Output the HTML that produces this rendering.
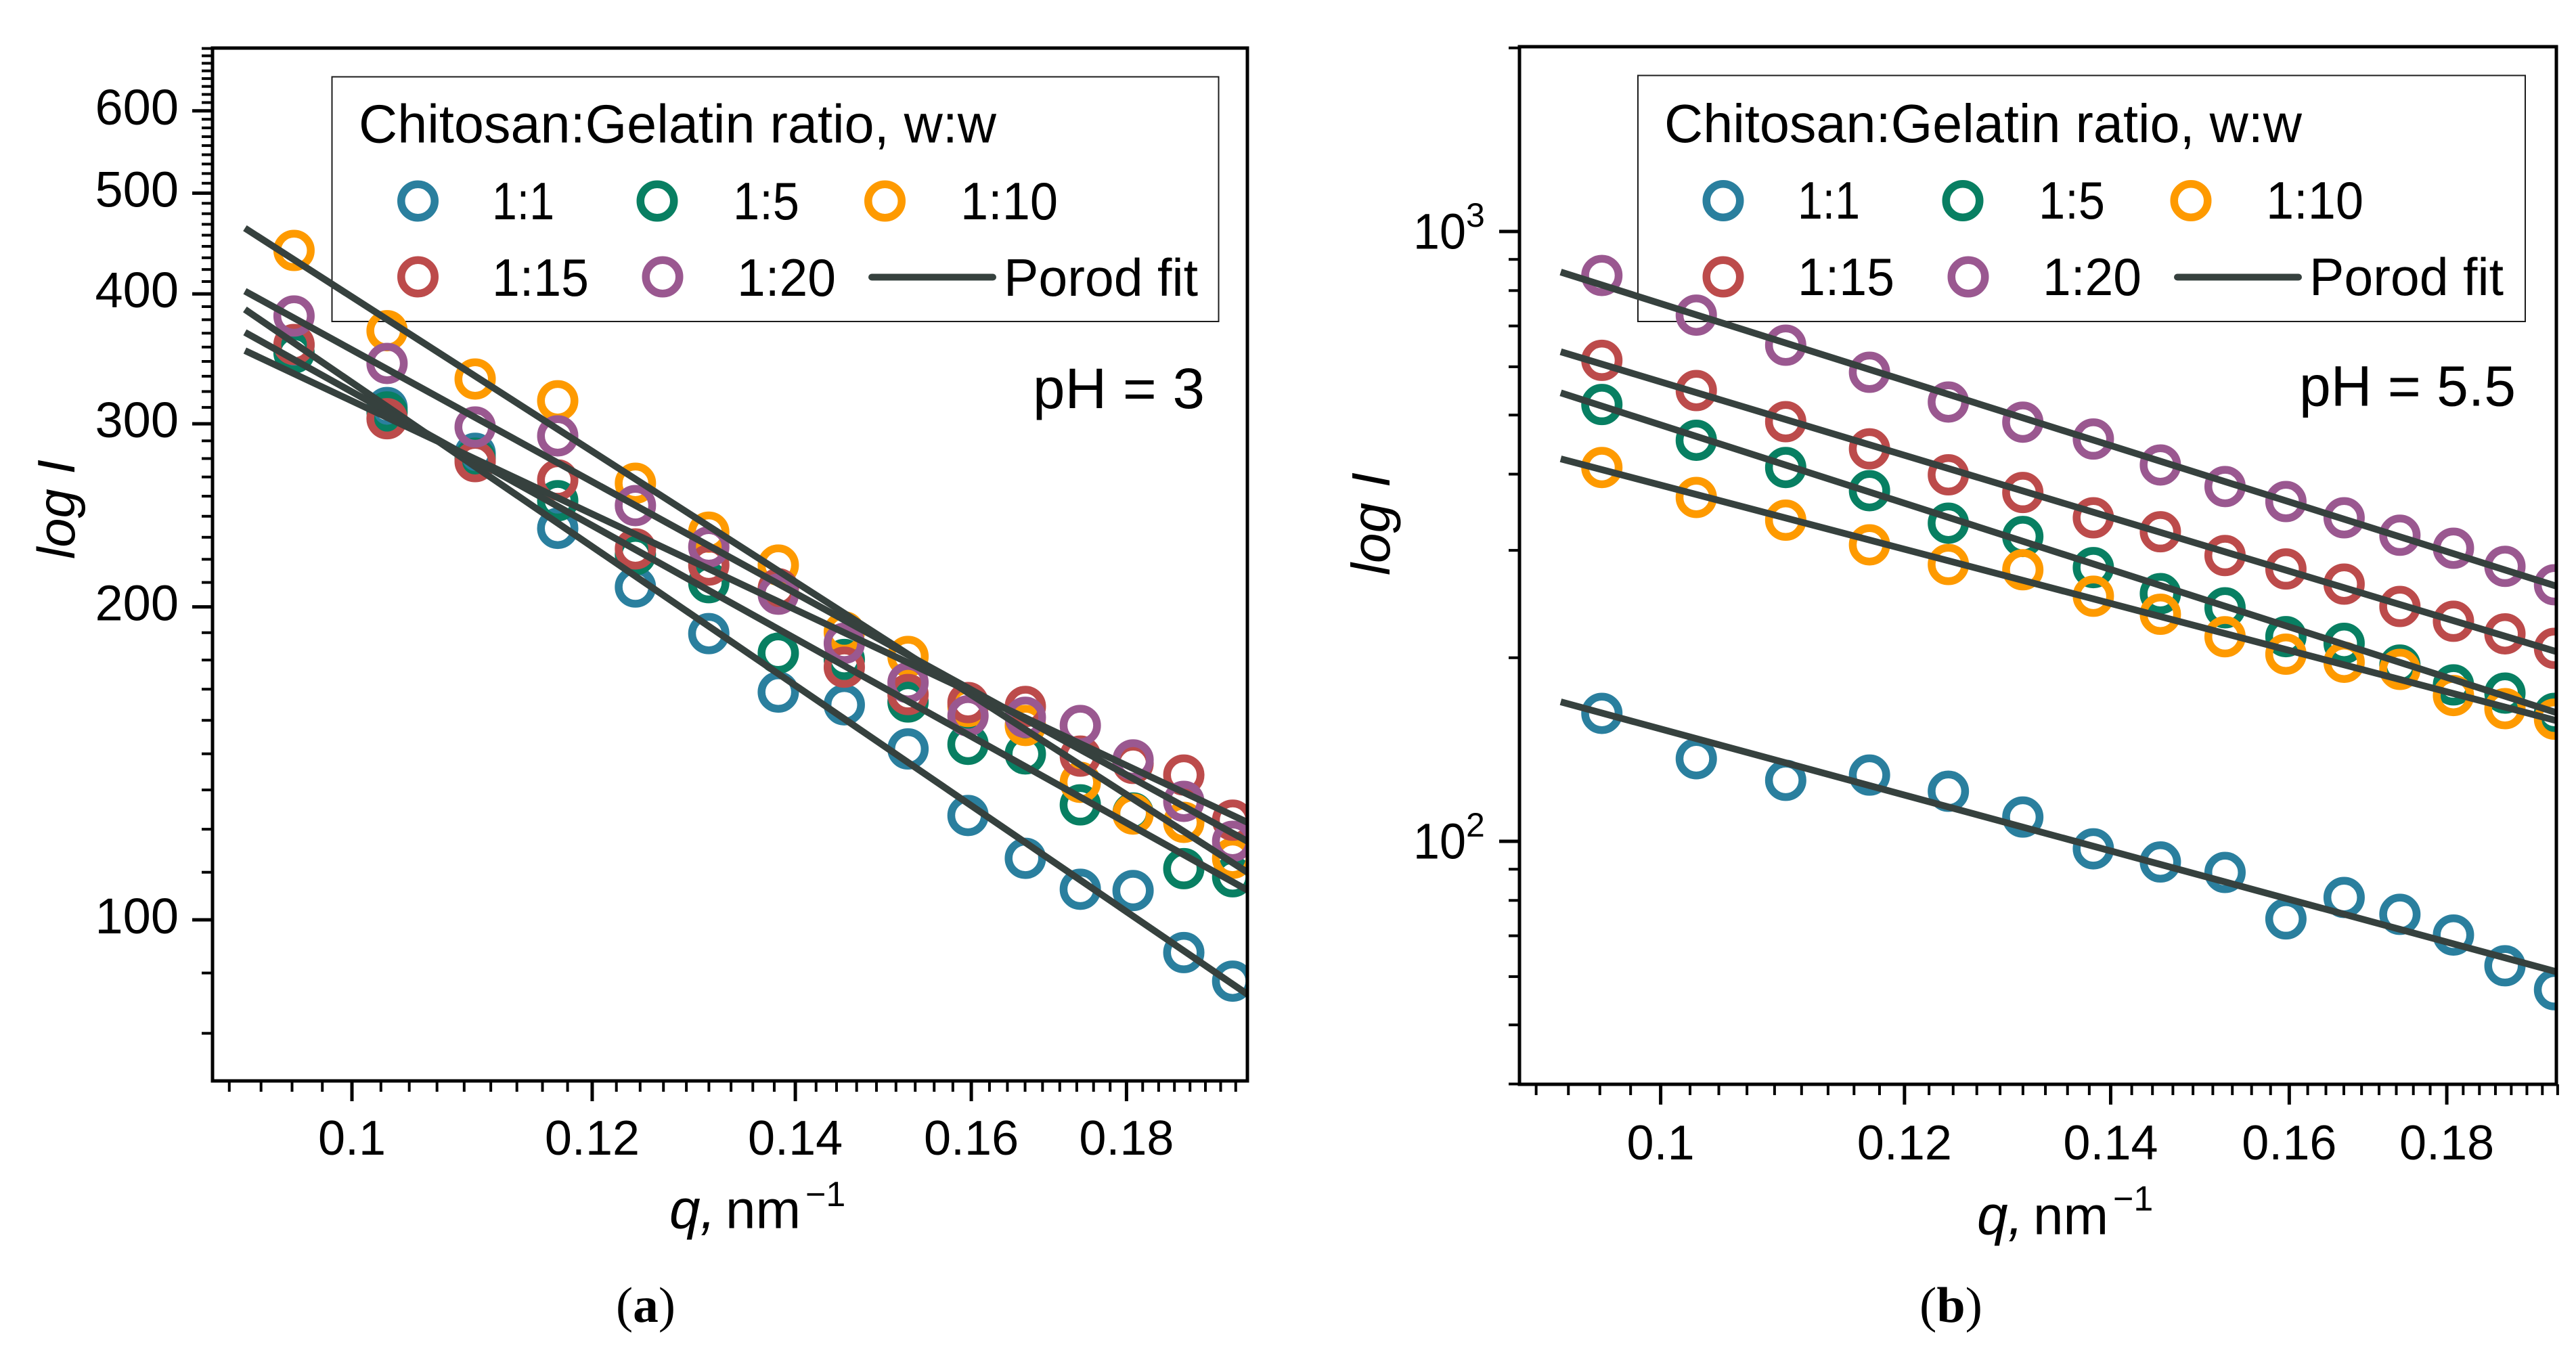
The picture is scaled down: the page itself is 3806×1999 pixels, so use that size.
<!DOCTYPE html>
<html lang="en">
<head>
<meta charset="utf-8">
<title>Porod fits of chitosan:gelatin ratios at pH 3 and pH 5.5</title>
<style>
  html, body { margin: 0; padding: 0; background: #fff; }
  svg { display: block; }
  text { font-family: "Liberation Sans", sans-serif; fill: #000; }
  .serif { font-family: "Liberation Serif", serif; }
</style>
</head>
<body>
<svg id="figure" xmlns="http://www.w3.org/2000/svg" width="3806" height="1999" viewBox="0 0 3806 1999">
  <rect x="0" y="0" width="3806" height="1999" fill="#fff"/>

  <defs>
    <clipPath id="clip-a"><rect x="314" y="71" width="1529" height="1526"/></clipPath>
    <clipPath id="clip-b"><rect x="2245" y="69" width="1532" height="1533"/></clipPath>
  </defs>

  <g id="panel-a">
    <g>
      <rect x="490.5" y="113.5" width="1310" height="361.5" fill="none" stroke="#1c1c1c" stroke-width="2"/>
      <text x="530" y="210.5" font-size="80" textLength="942" lengthAdjust="spacingAndGlyphs">Chitosan:Gelatin ratio, w:w</text>
      <circle cx="617.5" cy="297" r="24.75" fill="none" stroke="#2a7f9e" stroke-width="11.5"/>
      <text x="727" y="324" font-size="78" textLength="92" lengthAdjust="spacingAndGlyphs">1:1</text>
      <circle cx="971" cy="297" r="24.75" fill="none" stroke="#087f62" stroke-width="11.5"/>
      <text x="1083" y="324" font-size="78" textLength="98" lengthAdjust="spacingAndGlyphs">1:5</text>
      <circle cx="1307.5" cy="297" r="24.75" fill="none" stroke="#fe9a00" stroke-width="11.5"/>
      <text x="1419" y="324" font-size="78" textLength="144" lengthAdjust="spacingAndGlyphs">1:10</text>
      <circle cx="617.5" cy="409" r="24.75" fill="none" stroke="#bc4b4b" stroke-width="11.5"/>
      <text x="727" y="437" font-size="78" textLength="143" lengthAdjust="spacingAndGlyphs">1:15</text>
      <circle cx="979" cy="409" r="24.75" fill="none" stroke="#9a5890" stroke-width="11.5"/>
      <text x="1089" y="437" font-size="78" textLength="146" lengthAdjust="spacingAndGlyphs">1:20</text>
      <line x1="1288" y1="409.5" x2="1467" y2="409.5" stroke="#36413e" stroke-width="10" stroke-linecap="round"/>
      <text x="1483" y="437" font-size="78" textLength="287" lengthAdjust="spacingAndGlyphs">Porod fit</text>
    </g>
    <g id="marks-a" clip-path="url(#clip-a)"></g>
    <g id="axes-a"></g>
    <text x="1526" y="603" font-size="84" textLength="254" lengthAdjust="spacingAndGlyphs">pH = 3</text>
    <text transform="translate(110,826) rotate(-90)" font-size="78" font-style="italic" textLength="147" lengthAdjust="spacingAndGlyphs">log I</text>
    <text y="1814.6" font-size="80"><tspan x="989" font-style="italic" font-size="82">q,</tspan><tspan x="1072">nm</tspan><tspan x="1190" y="1782" font-size="52">−1</tspan></text>
    <text class="serif" x="910" y="1953" font-size="74" textLength="88" lengthAdjust="spacingAndGlyphs">(<tspan font-weight="bold">a</tspan>)</text>
  </g>

  <g id="panel-b">
    <g>
      <rect x="2420" y="111.5" width="1311" height="363.5" fill="none" stroke="#1c1c1c" stroke-width="2"/>
      <text x="2459" y="210" font-size="80" textLength="942" lengthAdjust="spacingAndGlyphs">Chitosan:Gelatin ratio, w:w</text>
      <circle cx="2546" cy="296.5" r="24.75" fill="none" stroke="#2a7f9e" stroke-width="11.5"/>
      <text x="2656" y="323" font-size="78" textLength="92" lengthAdjust="spacingAndGlyphs">1:1</text>
      <circle cx="2900" cy="296.5" r="24.75" fill="none" stroke="#087f62" stroke-width="11.5"/>
      <text x="3012" y="323" font-size="78" textLength="98" lengthAdjust="spacingAndGlyphs">1:5</text>
      <circle cx="3237" cy="296.5" r="24.75" fill="none" stroke="#fe9a00" stroke-width="11.5"/>
      <text x="3348" y="323" font-size="78" textLength="144" lengthAdjust="spacingAndGlyphs">1:10</text>
      <circle cx="2546" cy="409" r="24.75" fill="none" stroke="#bc4b4b" stroke-width="11.5"/>
      <text x="2656" y="436" font-size="78" textLength="143" lengthAdjust="spacingAndGlyphs">1:15</text>
      <circle cx="2908" cy="409" r="24.75" fill="none" stroke="#9a5890" stroke-width="11.5"/>
      <text x="3018" y="436" font-size="78" textLength="146" lengthAdjust="spacingAndGlyphs">1:20</text>
      <line x1="3217" y1="409.5" x2="3396" y2="409.5" stroke="#36413e" stroke-width="10" stroke-linecap="round"/>
      <text x="3412" y="436" font-size="78" textLength="287" lengthAdjust="spacingAndGlyphs">Porod fit</text>
    </g>
    <g id="marks-b" clip-path="url(#clip-b)"></g>
    <g id="axes-b"></g>
    <text x="3397" y="599.5" font-size="84" textLength="320" lengthAdjust="spacingAndGlyphs">pH = 5.5</text>
    <text transform="translate(2053,850) rotate(-90)" font-size="80" font-style="italic" textLength="152" lengthAdjust="spacingAndGlyphs">log I</text>
    <text y="1823.7" font-size="80"><tspan x="2921" font-style="italic" font-size="82">q,</tspan><tspan x="3004">nm</tspan><tspan x="3122" y="1788.7" font-size="52">−1</tspan></text>
    <text class="serif" x="2836" y="1953" font-size="74" textLength="93" lengthAdjust="spacingAndGlyphs">(<tspan font-weight="bold">b</tspan>)</text>
  </g>
</svg>

<script>
// ---- Data ----
const ratioKeys = ['1-1', '1-5', '1-10', '1-15', '1-20'];
const qValues = [0.0957, 0.1027, 0.1098, 0.1169, 0.1240, 0.1311, 0.1382, 0.1453, 0.1525, 0.1596, 0.1667, 0.1738, 0.1809, 0.1880, 0.1951];

// Panel (a), pH = 3
const ph3Ratio1to1  = [357, 311, 281, 238, 209, 188.5, 165.6, 161, 146, 126, 114.6, 107, 106.7, 93, 87.3];
const ph3Ratio1to5  = [351, 308, 278, 253, 224.5, 211, 180.5, 178, 162, 147.5, 144.4, 129, 126.7, 112, 110];
const ph3Ratio1to10 = [440.4, 368.7, 331.3, 315.7, 263, 236, 219.4, 189.2, 179.2, 160.4, 153.8, 135.6, 126.4, 124.1, 114.6];
const ph3Ratio1to15 = [357.6, 303.4, 275.9, 264.9, 227.4, 219.4, 208.2, 175, 164.7, 161.8, 160.4, 143.7, 141.4, 137.8, 124.7];
const ph3Ratio1to20 = [380.9, 342.9, 297.9, 292.1, 250.3, 228.4, 205.7, 184.5, 169.1, 157.1, 156.6, 153.8, 142.5, 130, 119];
const ph3FitQ = [0.0922, 0.1973];
const ph3Fit1to1  = [386.5, 84.8];
const ph3Fit1to5  = [367.4, 106.8];
const ph3Fit1to10 = [462.7, 111.1];
const ph3Fit1to15 = [352.8, 124.1];
const ph3Fit1to20 = [402.5, 119];

// Panel (b), pH = 5.5
const ph55Ratio1to1  = [162.1, 136.6, 125.9, 128.4, 120.8, 109.6, 97.2, 92.5, 88.9, 74.6, 80.9, 75.9, 70.2, 62.5, 57.1];
const ph55Ratio1to5  = [520.3, 454.6, 410.2, 375.8, 332.4, 316.1, 281.1, 254.8, 241.5, 216.6, 211.2, 194.5, 180.5, 175, 162.1];
const ph55Ratio1to10 = [410.2, 366.3, 336.2, 306.3, 284.4, 278.8, 252.3, 235.7, 216.5, 202.7, 196.6, 191.4, 173.4, 165, 158.6];
const ph55Ratio1to15 = [614.7, 548.5, 487.6, 440.1, 399, 373.2, 339.2, 321.8, 294.2, 279.6, 264.1, 242.7, 229.5, 218.9, 207.2];
const ph55Ratio1to20 = [847, 729.2, 650.9, 587.6, 525.2, 486.8, 456.7, 414.1, 381.7, 360.7, 339.2, 317.6, 302.4, 282.4, 263.4];
const ph55FitQ = [0.0928, 0.1954];
const ph55Fit1to1  = [169.3, 61.1];
const ph55Fit1to5  = [543.8, 162.5];
const ph55Fit1to10 = [423.8, 157.7];
const ph55Fit1to15 = [635, 204.6];
const ph55Fit1to20 = [858, 262];

// Tick labels
const xTickLabels = ['0.1', '0.12', '0.14', '0.16', '0.18'];
const ph3YTickLabels = ['100', '200', '300', '400', '500', '600'];
const ph55YMajorTicks = [100, 1000];
const ph55YExponents = ['2', '3'];
const ph55YMinorTicks = [40, 50, 60, 70, 80, 90, 200, 300, 400, 500, 600, 700, 800, 900, 2000];

// ---- Drawing ----
const SVG_NS = 'http://www.w3.org/2000/svg';
const seriesColors = ['#2a7f9e', '#087f62', '#fe9a00', '#bc4b4b', '#9a5890'];
const FIT_COLOR = '#36413e';

function make(parent, tag, attrs) {
  const el = document.createElementNS(SVG_NS, tag);
  for (const k in attrs) el.setAttribute(k, attrs[k]);
  parent.appendChild(el);
  return el;
}

function xScale(panel, q) { return panel.x01 + panel.xK * Math.log10(q / 0.1); }
function yScale(panel, v) { return panel.yRef + panel.yK * Math.log10(panel.yRefValue / v); }

function drawMarks(panel, series, fits, fitQ) {
  const g = document.getElementById(panel.marksId);
  series.forEach(function (values, s) {
    values.forEach(function (v, i) {
      const c = make(g, 'circle', {
        cx: xScale(panel, qValues[i]), cy: yScale(panel, v), r: 24.75,
        fill: 'none', stroke: seriesColors[s], 'stroke-width': 11.5
      });
      
      
      c.setAttribute('data-series', ratioKeys[s]);
    });
  });
  fits.forEach(function (fit, s) {
    const l = make(g, 'line', {
      x1: xScale(panel, fitQ[0]), y1: yScale(panel, fit[0]),
      x2: xScale(panel, fitQ[1]), y2: yScale(panel, fit[1]),
      stroke: FIT_COLOR, 'stroke-width': 10
    });
    
    
    l.setAttribute('data-series', ratioKeys[s]);
  });
}

function tick(g, x1, y1, x2, y2, major) {
  const t = make(g, 'line', { x1: x1, y1: y1, x2: x2, y2: y2, stroke: '#000', 'stroke-width': major ? 5 : 4 });
  
  
}

function drawXAxis(panel, g) {
  for (let k = -4; k <= 43; k++) {
    const q = 0.1 + k * 0.02 / 9;
    const major = k % 9 === 0 && k <= 36;
    const x = xScale(panel, q);
    tick(g, x, panel.bottom, x, panel.bottom + (major ? 30 : 16), major);
  }
  xTickLabels.forEach(function (label) {
    const t = make(g, 'text', {
      x: xScale(panel, parseFloat(label)), y: panel.bottom + panel.xLabelDy,
      'font-size': 72, 'text-anchor': 'middle'
    });
    t.textContent = label;
    
    
  });
}

function drawFrame(panel, g) {
  const r = make(g, 'rect', {
    x: panel.left, y: panel.top, width: panel.right - panel.left, height: panel.bottom - panel.top,
    fill: 'none', stroke: '#000', 'stroke-width': 5
  });
  
  
}

// Panel (a)
const panelA = { marksId: 'marks-a', x01: 520, xK: 4483, yRef: 1359, yRefValue: 100, yK: 1536,
                 left: 314, right: 1843, top: 71, bottom: 1597, xLabelDy: 109 };
drawMarks(panelA,
  [ph3Ratio1to1, ph3Ratio1to5, ph3Ratio1to10, ph3Ratio1to15, ph3Ratio1to20],
  [ph3Fit1to1, ph3Fit1to5, ph3Fit1to10, ph3Fit1to15, ph3Fit1to20],
  ph3FitQ);
(function () {
  const g = document.getElementById('axes-a');
  for (let k = -2; k <= 53; k++) {
    const v = 100 + k * 100 / 9;
    const major = k % 9 === 0;
    const y = yScale(panelA, v);
    tick(g, panelA.left - (major ? 30 : 16), y, panelA.left, y, major);
  }
  ph3YTickLabels.forEach(function (label) {
    const t = make(g, 'text', {
      x: 264, y: yScale(panelA, parseFloat(label)) + 20, 'font-size': 74, 'text-anchor': 'end'
    });
    t.textContent = label;
    
    
  });
  drawXAxis(panelA, g);
  drawFrame(panelA, g);
})();

// Panel (b)
const panelB = { marksId: 'marks-b', x01: 2453.6, xK: 4550, yRef: 1243, yRefValue: 100, yK: 901,
                 left: 2245, right: 3777, top: 69, bottom: 1602, xLabelDy: 111 };
drawMarks(panelB,
  [ph55Ratio1to1, ph55Ratio1to5, ph55Ratio1to10, ph55Ratio1to15, ph55Ratio1to20],
  [ph55Fit1to1, ph55Fit1to5, ph55Fit1to10, ph55Fit1to15, ph55Fit1to20],
  ph55FitQ);
(function () {
  const g = document.getElementById('axes-b');
  ph55YMinorTicks.forEach(function (v) {
    const y = yScale(panelB, v);
    tick(g, panelB.left - 16, y, panelB.left, y, false);
  });
  ph55YMajorTicks.forEach(function (v, i) {
    const y = yScale(panelB, v);
    tick(g, panelB.left - 30, y, panelB.left, y, true);
    const t = make(g, 'text', { x: 2088, y: y + 25.5, 'font-size': 74, textLength: 78, lengthAdjust: 'spacingAndGlyphs' });
    t.textContent = '10';
    
    
    const e = make(g, 'text', { x: 2166, y: y - 7, 'font-size': 50 });
    e.textContent = ph55YExponents[i];
    
    
  });
  drawXAxis(panelB, g);
  drawFrame(panelB, g);
})();
</script>
</body>
</html>
